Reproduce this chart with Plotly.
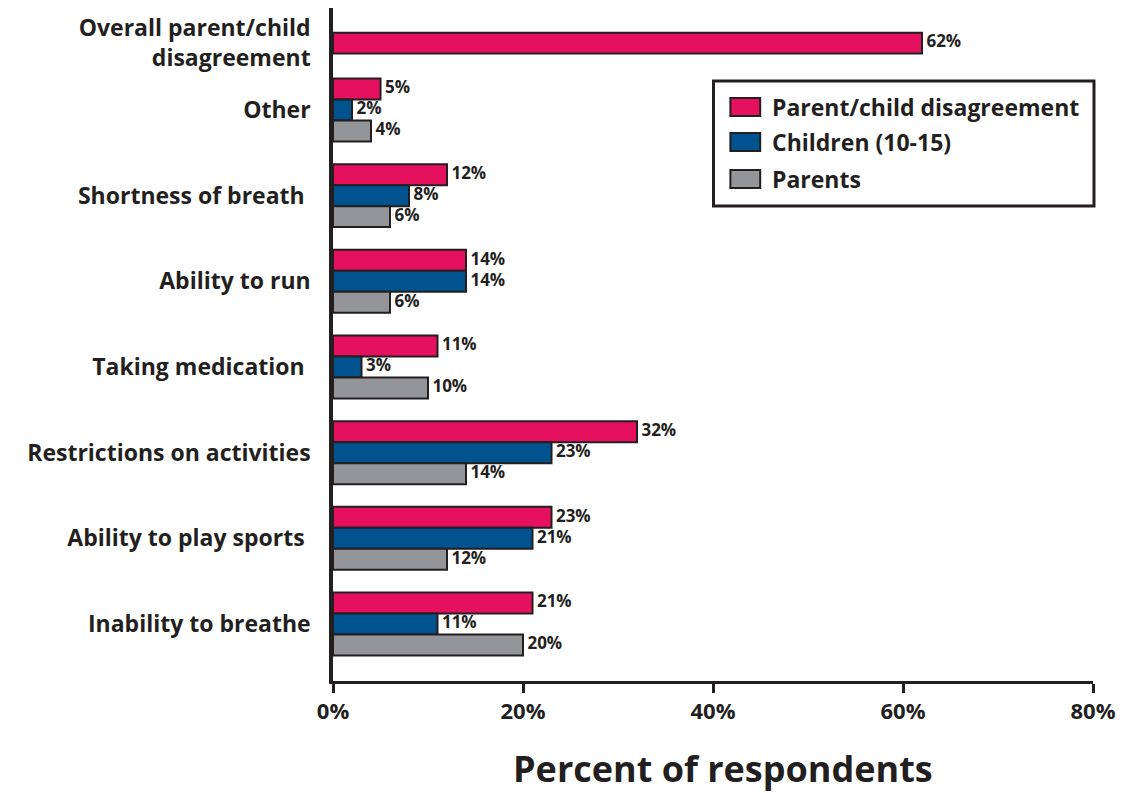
import plotly.graph_objects as go

# Categories listed bottom to top
categories = [
    "Inability to breathe",
    "Ability to play sports ",
    "Restrictions on activities",
    "Taking medication ",
    "Ability to run",
    "Shortness of breath ",
    "Other",
    "Overall parent/child<br>disagreement",
]
disagreement = [21, 23, 32, 11, 14, 12, 5, 62]
children = [11, 21, 23, 3, 14, 8, 2]
parents = [20, 12, 14, 10, 6, 6, 4]
series_names = ["Parent/child disagreement", "Children (10-15)", "Parents"]
x_ticks = [0, 20, 40, 60, 80]

PINK = "#e5115f"
BLUE = "#00538f"
GRAY = "#949598"
INK = "#231f20"
FONT = "Open Sans"

# vertical slot for each category; the overall row sits a bit closer to "Other"
positions = [0, 1, 2, 3, 4, 5, 6, 6.78]
bw = 0.245  # height of each bar in slot units

# pink bars sit above the group centre, except the single overall bar which is centred
pink_offsets = [bw / 2] * 7 + [-bw / 2]

outline = dict(color=INK, width=2)
label_font = dict(family=FONT, size=17, color=INK, weight="bold")

fig = go.Figure()
series = [
    (disagreement, positions, pink_offsets, PINK, series_names[0]),
    (children, positions[:7], [-bw / 2] * 7, BLUE, series_names[1]),
    (parents, positions[:7], [-1.5 * bw] * 7, GRAY, series_names[2]),
]
for vals, pos, offs, col, name in series:
    fig.add_trace(go.Bar(
        y=pos, x=vals, orientation="h", width=bw, offset=offs,
        marker=dict(color=col, line=outline), name=name,
    ))
for vals, pos, offs, col, name in series:
    # value labels just past the end of each bar
    fig.add_trace(go.Scatter(
        x=vals, y=[p + o + bw / 2 for p, o in zip(pos, offs)],
        mode="text", text=[f" {v}%" for v in vals], textposition="middle right",
        textfont=label_font, cliponaxis=False, hoverinfo="skip", showlegend=False,
    ))

# hand-built legend box with wide swatches
L, R, T, B = 333, 1098, 8, 681
W, H = R - L, B - T
px = lambda x: (x - L) / W
py = lambda y: (B - y) / H

shapes = [dict(type="rect", xref="paper", yref="paper",
               x0=px(716), x1=px(1099), y0=py(206), y1=py(81),
               line=dict(color=INK, width=3), fillcolor="white", layer="above")]
annotations = []
row_y = [107, 142, 179]
for name, col, yc in zip(series_names, [PINK, BLUE, GRAY], row_y):
    shapes.append(dict(type="rect", xref="paper", yref="paper",
                       x0=px(733), x1=px(763), y0=py(yc + 9), y1=py(yc - 9),
                       line=dict(color=INK, width=2), fillcolor=col, layer="above"))
    annotations.append(dict(xref="paper", yref="paper", x=px(773), y=py(yc),
                            text=name, showarrow=False, xanchor="left", yanchor="middle",
                            font=dict(family=FONT, size=23, color=INK, weight="bold")))

annotations.append(dict(xref="paper", yref="paper", x=px(726), y=py(768),
                        text="Percent of respondents", showarrow=False,
                        xanchor="center", yanchor="middle",
                        font=dict(family=FONT, size=36, color=INK, weight="bold")))

fig.update_layout(
    width=1124, height=793,
    margin=dict(l=L, r=1124 - R, t=T, b=793 - B),
    paper_bgcolor="white", plot_bgcolor="white",
    showlegend=False,
    barmode="overlay",
    shapes=shapes, annotations=annotations,
    xaxis=dict(range=[0, 80], tickvals=x_ticks, ticktext=[f"{v}%" for v in x_ticks],
               showgrid=False, zeroline=False, showline=True, linecolor=INK, linewidth=3,
               ticks="outside", ticklen=9, tickwidth=3, tickcolor=INK,
               tickfont=dict(family=FONT, size=22, color=INK, weight="bold")),
    yaxis=dict(range=[-0.665, 7.19], tickvals=positions, ticktext=categories,
               showgrid=False, zeroline=False, showline=True, linecolor=INK, linewidth=3.5,
               ticks="", ticklabelstandoff=14,
               tickfont=dict(family=FONT, size=23, color=INK, weight="bold")),
)

fig.write_html("out.html")
